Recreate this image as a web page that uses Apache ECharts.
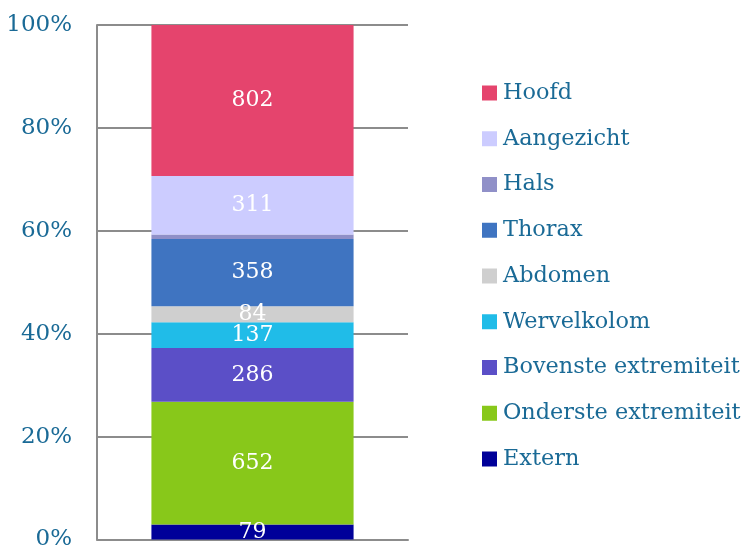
<!DOCTYPE html>
<html>
<head>
<meta charset="utf-8">
<script src="https://cdn.jsdelivr.net/npm/echarts@6/dist/echarts.min.js"></script>
<style>
  html, body { margin: 0; padding: 0; background: #fff; }
  #chart { width: 743px; height: 551px; }
</style>
</head>
<body>
<div id="chart"></div>
<script>
// bottom to top, as stacked in the bar
const names = ['Extern', 'Onderste extremiteit', 'Bovenste extremiteit', 'Wervelkolom',
  'Abdomen', 'Thorax', 'Hals', 'Aangezicht', 'Hoofd']
const counts = [79, 652, 286, 137, 84, 358, 23, 311, 802]
const colors = ['#000099', '#88C81A', '#5B4FC7', '#20BCE8', '#CFCFCF', '#3F74C1',
  '#9090C8', '#CCCCFF', '#E5446D']
const yTicks = [0, 20, 40, 60, 80, 100]

const total = counts.reduce((a, b) => a + b, 0)
const font = 'DejaVu Serif'
const textColor = '#1A6A96'

const chart = echarts.init(document.getElementById('chart'))

const series = names.map((name, i) => ({
  name: name,
  type: 'bar',
  stack: 'all',
  barWidth: '65%',
  data: [counts[i] / total * 100],
  itemStyle: { color: colors[i] },
  label: {
    show: name !== 'Hals',
    position: 'inside',
    color: '#fff',
    fontFamily: font,
    fontSize: 22,
    formatter: () => counts[i]
  }
}))

chart.setOption({
  animation: false,
  grid: { left: 97, right: 335, top: 25, bottom: 11 },
  legend: {
    orient: 'vertical',
    left: 482,
    top: 82,
    padding: 0,
    itemWidth: 15,
    itemHeight: 15,
    itemGap: 23.75,
    icon: 'rect',
    data: names.slice().reverse(),
    textStyle: { color: textColor, fontFamily: font, fontSize: 22.4, lineHeight: 22, padding: [0, 0, 0, 1] }
  },
  xAxis: {
    type: 'category',
    data: [''],
    axisLine: { lineStyle: { color: '#8C8C8C', width: 2 } },
    axisTick: { show: false },
    axisLabel: { show: false }
  },
  yAxis: {
    type: 'value',
    min: yTicks[0],
    max: yTicks[yTicks.length - 1],
    interval: 20,
    axisLine: { show: true, lineStyle: { color: '#8C8C8C', width: 2 } },
    axisTick: { show: false },
    splitLine: { lineStyle: { color: '#8C8C8C', width: 2 } },
    axisLabel: {
      color: textColor,
      fontFamily: font,
      fontSize: 23,
      margin: 25,
      padding: [6, 0, 0, 0],
      formatter: '{value}%'
    }
  },
  series: series
})
</script>
</body>
</html>
